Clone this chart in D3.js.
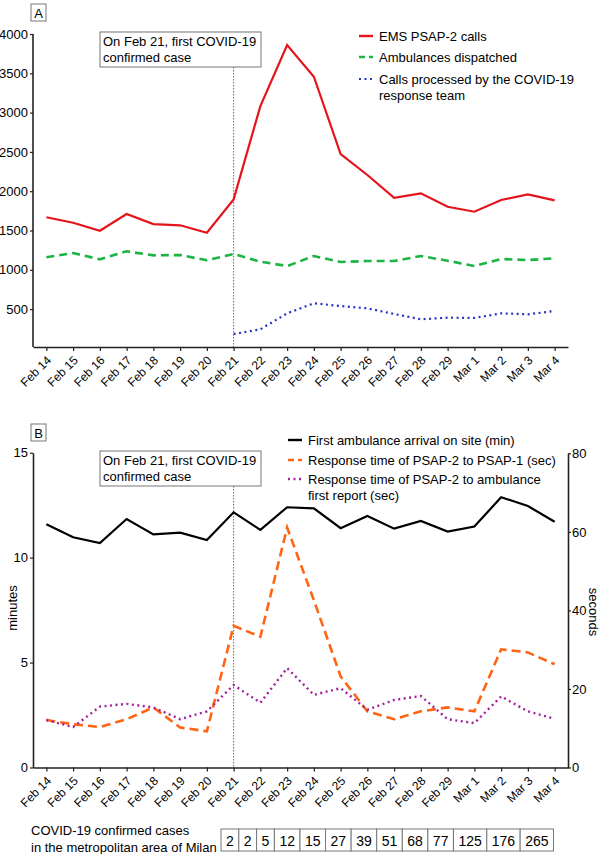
<!DOCTYPE html>
<html><head><meta charset="utf-8">
<script src="https://cdn.jsdelivr.net/npm/d3@7"></script>
<style>
body{margin:0;background:#fff;}
svg{display:block;font-family:"Liberation Sans",Arial,Helvetica,sans-serif;}
</style></head>
<body>
<svg id="chart" width="600" height="854"></svg>
<script>
const categories = ["Feb 14","Feb 15","Feb 16","Feb 17","Feb 18","Feb 19","Feb 20","Feb 21","Feb 22","Feb 23","Feb 24","Feb 25","Feb 26","Feb 27","Feb 28","Feb 29","Mar 1","Mar 2","Mar 3","Mar 4"];
const emsCalls = [1668,1599,1497,1710,1582,1566,1472,1896,3083,3859,3456,2473,2206,1917,1973,1802,1739,1888,1960,1884];
const ambulances = [1159,1213,1133,1235,1184,1188,1121,1201,1103,1048,1175,1099,1112,1112,1175,1116,1048,1137,1124,1146];
const covidTeam = [null,null,null,null,null,null,null,183,243,446,574,539,510,438,370,391,387,446,434,476];
const arrivalMin = [11.59,10.97,10.69,11.84,11.11,11.19,10.84,12.16,11.32,12.40,12.35,11.40,11.98,11.38,11.75,11.24,11.48,12.88,12.46,11.71];
const psap1Sec = [12.1,11.0,10.3,12.3,15.3,10.2,9.2,36.1,33.3,61.1,42.6,23.2,14.3,12.3,14.3,15.3,14.3,30.1,29.3,26.3];
const ambReportSec = [12.1,10.3,15.5,16.2,15.3,12.3,14.3,21.0,16.5,25.3,18.5,20.2,14.7,17.2,18.2,12.3,11.3,18.1,14.3,12.4];
const ticksA = [500,1000,1500,2000,2500,3000,3500,4000];
const ticksMin = [0,5,10,15];
const ticksSec = [0,20,40,60,80];
const cases = [2,2,5,12,15,27,39,51,68,77,125,176,265];
const legendA = ["EMS PSAP-2 calls","Ambulances dispatched",["Calls processed by the COVID-19","response team"]];
const legendB = ["First ambulance arrival on site (min)","Response time of PSAP-2 to PSAP-1 (sec)",["Response time of PSAP-2 to ambulance","first report (sec)"]];
const annotation = ["On Feb 21, first COVID-19","confirmed case"];
const eventDate = "Feb 21";

const svg = d3.select("#chart");
const FS = 13;
const fmt = d3.format("d");
const x = d3.scalePoint().domain(categories).range([33,568]).padding(0.5);

function styleAxis(g, fs){
  g.selectAll(".domain").attr("stroke","#222").attr("stroke-width",1.6);
  g.selectAll(".tick line").attr("stroke","#222").attr("stroke-width",1.2);
  g.selectAll("text").attr("font-size",fs||FS).attr("fill","#000").attr("font-family","Liberation Sans, Arial, sans-serif");
}
function xAxis(yPos){
  const g = svg.append("g").attr("transform",`translate(0,${yPos})`)
    .call(d3.axisBottom(x).tickSize(4).tickSizeOuter(0));
  styleAxis(g);
  g.selectAll("text").attr("font-size",12).attr("text-anchor","end")
    .attr("x",0).attr("y",0).attr("dx",0).attr("dy",0)
    .attr("transform","translate(5,14) rotate(-45)");
  return g;
}
function lineSeries(data, yScale, color, dash, width){
  const line = d3.line().defined(d=>d!=null).x((d,i)=>x(categories[i])).y(d=>yScale(d));
  svg.append("path").datum(data).attr("d",line).attr("fill","none")
    .attr("stroke",color).attr("stroke-width",width).attr("stroke-dasharray",dash)
    .attr("stroke-linejoin","miter");
}
function annot(top, bottomAxis){
  const bx=100, bw=161, bh=35;
  svg.append("line").attr("x1",x(eventDate)).attr("x2",x(eventDate))
    .attr("y1",top+bh).attr("y2",bottomAxis).attr("stroke","#666").attr("stroke-width",1).attr("stroke-dasharray","1.5,1.5");
  svg.append("rect").attr("x",bx).attr("y",top).attr("width",bw).attr("height",bh)
    .attr("fill","#fff").attr("stroke","#777").attr("stroke-width",1);
  annotation.forEach((t,i)=>svg.append("text").attr("x",bx+3).attr("y",top+14+i*15.5)
    .attr("font-size",FS).text(t));
}
function panelLabel(lbl, top){
  svg.append("rect").attr("x",31).attr("y",top).attr("width",15).attr("height",17)
    .attr("fill","#fff").attr("stroke","#777");
  svg.append("text").attr("x",38.5).attr("y",top+13.5).attr("text-anchor","middle").attr("font-size",FS).text(lbl);
}
function legend(items, styles, x0, y0, gaps){
  let y = y0;
  items.forEach((it,i)=>{
    const s = styles[i];
    svg.append("line").attr("x1",x0).attr("x2",x0+14).attr("y1",y).attr("y2",y)
      .attr("stroke",s.color).attr("stroke-width",s.width).attr("stroke-dasharray",s.dash);
    const lines = Array.isArray(it)?it:[it];
    lines.forEach((t,j)=>svg.append("text").attr("x",x0+20).attr("y",y+4.5+j*16).attr("font-size",FS).text(t));
    y += gaps[i]||0;
  });
}

const C = {red:"#e5141b", green:"#1db446", blue:"#2433c4", black:"#000", orange:"#ff6414", purple:"#a2229e"};

// ---------- Panel A ----------
const yA = d3.scaleLinear().domain([0,4000]).range([348.4,34]);
annot(32,347);
lineSeries(emsCalls, yA, C.red, null, 2.2);
lineSeries(ambulances, yA, C.green, "8,5", 2.6);
lineSeries(covidTeam, yA, C.blue, "2,3.5", 2.2);
const gA = svg.append("g").attr("transform","translate(33,0)")
  .call(d3.axisLeft(yA).tickValues(ticksA).tickFormat(fmt).tickSize(3).tickPadding(2).tickSizeOuter(0));
styleAxis(gA, 13);
gA.select(".domain").attr("d","M0,34V347");
xAxis(347);
panelLabel("A",4);
legend(legendA,[{color:C.red,width:2.4,dash:null},{color:C.green,width:2.6,dash:"6,4"},{color:C.blue,width:2.2,dash:"2,3.5"}],359,36,[21,22]);

// ---------- Panel B ----------
const yMin = d3.scaleLinear().domain([0,15]).range([767.5,452.7]);
const ySec = d3.scaleLinear().domain([0,80]).range([767.5,453.3]);
annot(451,767);
lineSeries(arrivalMin, yMin, C.black, null, 2.2);
lineSeries(psap1Sec, ySec, C.orange, "9,5", 2.6);
lineSeries(ambReportSec, ySec, C.purple, "2,3.5", 2.4);
const gL = svg.append("g").attr("transform","translate(33,0)")
  .call(d3.axisLeft(yMin).tickValues(ticksMin).tickFormat(fmt).tickSize(3).tickPadding(2).tickSizeOuter(0));
styleAxis(gL);
const gR = svg.append("g").attr("transform","translate(568,0)")
  .call(d3.axisRight(ySec).tickValues(ticksSec).tickFormat(fmt).tickSize(3).tickPadding(1).tickSizeOuter(0));
styleAxis(gR);
xAxis(767.5);
panelLabel("B",424);
legend(legendB,[{color:C.black,width:2.4,dash:null},{color:C.orange,width:2.6,dash:"6,4"},{color:C.purple,width:2.4,dash:"2,3.5"}],288,440,[20,19]);
svg.append("text").attr("transform","translate(17,608) rotate(-90)").attr("text-anchor","middle").attr("font-size",FS).text("minutes");
svg.append("text").attr("transform","translate(589,612) rotate(90)").attr("text-anchor","middle").attr("font-size",FS).text("seconds");

// ---------- Cases table ----------
svg.append("text").attr("x",31).attr("y",835).attr("font-size",FS).text("COVID-19 confirmed cases");
svg.append("text").attr("x",31).attr("y",852).attr("font-size",FS).text("in the metropolitan area of Milan");
let cx = 221;
const tg = svg.append("g");
cases.forEach(v=>{
  const t = tg.append("text").attr("y",845.5).attr("font-size",14).attr("text-anchor","middle").text(v);
  const w = t.node().getComputedTextLength() + 10;
  tg.insert("rect","text").attr("x",cx).attr("y",829).attr("width",w).attr("height",22)
    .attr("fill","#fff").attr("stroke","#777").attr("stroke-width",1);
  t.attr("x",cx+w/2);
  cx += w;
});
</script>
</body></html>
